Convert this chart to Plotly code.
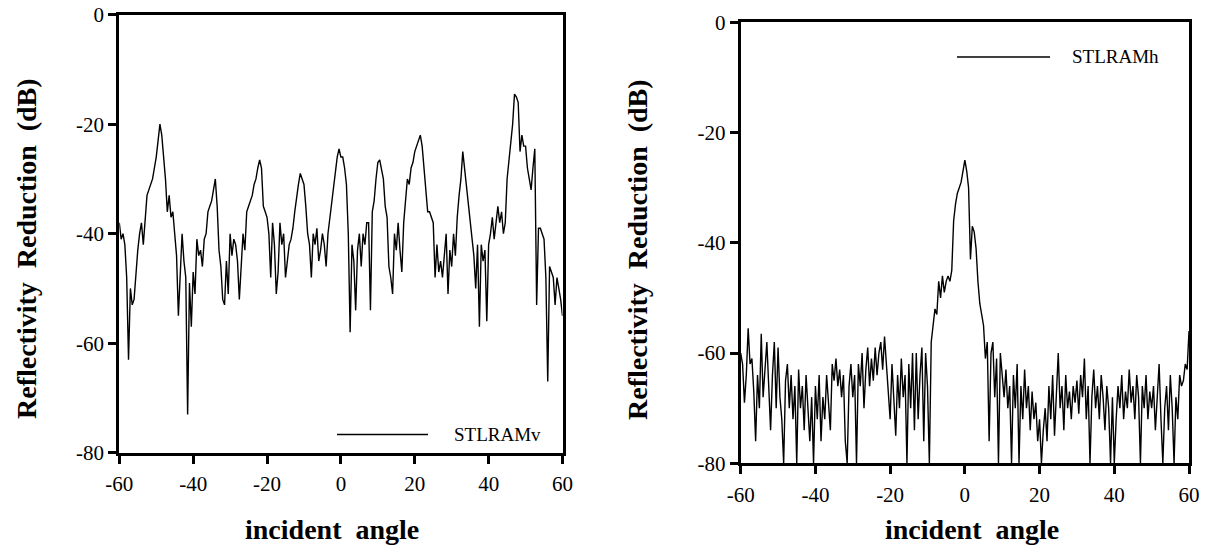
import numpy as np
import plotly.graph_objects as go

# ---------------- data ----------------
# incident angle grid: -60 .. 60 deg, 0.5 deg step
stlram_v = [
    -38, -41, -40, -42, -48, -63, -50, -53, -52, -47,      # -60 .. -55.5
    -43, -40, -38, -42, -37, -33, -32, -31, -30, -28,      # -55 .. -50.5
    -26, -23, -20, -22, -26, -30, -36, -33, -37, -36,      # -50 .. -45.5
    -40, -44, -55, -48, -40, -45, -48, -73, -49, -57,      # -45 .. -40.5
    -47, -51, -41, -44, -43, -46, -41, -40, -36, -35,      # -40 .. -35.5
    -34, -32, -30, -35, -43, -46, -52, -53, -45, -51,      # -35 .. -30.5
    -40, -44, -41, -42, -45, -52, -45, -40, -43, -36,      # -30 .. -25.5
    -35, -34, -33, -31, -30, -28, -26.5, -28, -35, -36,    # -25 .. -20.5
    -37, -40, -48, -38, -42, -51, -47, -38, -42, -40,      # -20 .. -15.5
    -48, -45, -42, -41, -39, -36, -33, -31, -29, -30,      # -15 .. -10.5
    -31, -35, -40, -42, -48, -40, -42, -39, -45, -43,      # -10 .. -5.5
    -40, -42, -46, -40, -37, -34, -31, -29, -26, -24.5,    # -5 .. -0.5
    -26, -26, -28, -31, -40, -58, -42, -45, -54, -43,      # 0 .. 4.5
    -40, -46, -40, -42, -38, -38, -54, -36, -34, -30,      # 5 .. 9.5
    -27, -26.5, -28, -30, -35, -37, -46, -48, -51, -40,    # 10 .. 14.5
    -43, -38, -43, -47, -38, -34, -30, -31, -28, -27,      # 15 .. 19.5
    -25, -24, -23, -22, -24, -28, -32, -36, -36, -37,      # 20 .. 24.5
    -38, -48, -42, -47, -45, -48, -44, -40, -51, -43,      # 25 .. 29.5
    -46, -40, -44, -37, -33, -30, -25, -28, -32, -35,      # 30 .. 34.5
    -37, -41, -44, -50, -42, -57, -42, -45, -43, -56,      # 35 .. 39.5
    -42, -40, -37, -41, -38, -35, -38, -36, -40, -38,      # 40 .. 44.5
    -30, -27, -24, -20, -14.5, -15, -16, -25, -22, -24,    # 45 .. 49.5
    -24, -28, -30, -32, -28, -24.5, -53, -39, -39, -40,    # 50 .. 54.5
    -41, -48, -67, -46, -47, -48, -53, -48, -50, -52, -55, # 55 .. 60
]

stlram_h = [
    -60, -62, -69, -64, -55.5, -62, -61, -67, -76, -64,    # -60 .. -55.5
    -70, -56.5, -68, -62, -58, -66, -74, -64, -58, -70,    # -55 .. -50.5
    -59, -68, -72, -80, -65, -62, -70, -64, -72, -66,      # -50 .. -45.5
    -80, -63, -70, -66, -74, -64, -70, -76, -68, -80,      # -45 .. -40.5
    -66, -72, -64, -76, -68, -72, -64, -70, -74, -62,      # -40 .. -35.5
    -65, -61, -66, -63, -68, -64, -76, -80, -66, -62,      # -35 .. -30.5
    -68, -64, -80, -62, -66, -60, -70, -63, -59, -66,      # -30 .. -25.5
    -61, -65, -59, -64, -60, -58, -63, -57, -62, -66,      # -25 .. -20.5
    -72, -62, -68, -75, -64, -70, -61, -68, -64, -80,      # -20 .. -15.5
    -62, -70, -60, -74, -60, -72, -64, -59, -76, -60,      # -15 .. -10.5
    -66, -80, -58, -55, -52, -53, -47, -50, -46, -49,      # -10 .. -5.5
    -47, -46, -47, -45, -36, -33, -31, -30, -29, -27,      # -5 .. -0.5
    -25, -27, -30, -43, -37, -38, -41, -47, -51, -53,      # 0 .. 4.5
    -55, -61, -58, -76, -60, -58, -68, -61, -80, -60,      # 5 .. 9.5
    -64, -68, -63, -70, -66, -80, -64, -70, -62, -80,      # 10 .. 14.5
    -66, -72, -63, -70, -66, -74, -67, -72, -69, -76,      # 15 .. 19.5
    -72, -80, -74, -70, -76, -66, -72, -64, -75, -68,      # 20 .. 24.5
    -60, -70, -66, -74, -64, -70, -67, -72, -66, -69,      # 25 .. 29.5
    -65, -71, -64, -68, -61, -72, -66, -80, -68, -63,      # 30 .. 34.5
    -70, -66, -72, -64, -68, -74, -66, -70, -80, -68,      # 35 .. 39.5
    -80, -72, -66, -70, -64, -72, -67, -70, -63, -69,      # 40 .. 44.5
    -66, -72, -64, -68, -80, -66, -70, -64, -72, -67,      # 45 .. 49.5
    -70, -66, -74, -68, -62, -72, -80, -70, -66, -74,      # 50 .. 54.5
    -64, -70, -80, -68, -72, -64, -66, -65, -62, -63, -56, # 55 .. 60
]

x_tick_vals = [-60, -40, -20, 0, 20, 40, 60]
x_tick_text = ["-60", "-40", "-20", "0", "20", "40", "60"]
y_tick_vals = [0, -20, -40, -60, -80]
y_tick_text = ["0", "-20", "-40", "-60", "-80"]

angles_v = np.linspace(-60, 60, len(stlram_v))
angles_h = np.linspace(-60, 60, len(stlram_h))

W, H = 1208, 548
SERIF = "Liberation Serif"

fig = go.Figure()
fig.add_trace(go.Scatter(x=angles_v, y=stlram_v, mode="lines", name="STLRAMv",
                         line=dict(color="black", width=1.4), xaxis="x", yaxis="y",
                         showlegend=False))
fig.add_trace(go.Scatter(x=angles_h, y=stlram_h, mode="lines", name="STLRAMh",
                         line=dict(color="black", width=1.4), xaxis="x2", yaxis="y2",
                         showlegend=False))


def xax(domain, anchor):
    return dict(domain=domain, anchor=anchor, range=[-60, 60],
                tickvals=x_tick_vals, ticktext=x_tick_text,
                showline=True, linewidth=3, linecolor="black", mirror=True,
                ticks="outside", ticklen=8, tickwidth=3, tickcolor="black",
                ticklabelstandoff=2, automargin=False, ticklabeloverflow="allow",
                showgrid=False, zeroline=False,
                tickfont=dict(family=SERIF, size=21, color="black"))


def yax(domain, anchor):
    return dict(domain=domain, anchor=anchor, range=[-80, 0],
                tickvals=y_tick_vals, ticktext=y_tick_text,
                showline=True, linewidth=3, linecolor="black", mirror=True,
                ticks="outside", ticklen=8, tickwidth=3, tickcolor="black",
                automargin=False, ticklabeloverflow="allow",
                showgrid=False, zeroline=False,
                tickfont=dict(family=SERIF, size=21, color="black"))


def px(x):
    return x / W


def py(y):
    return 1 - y / H


fig.update_layout(
    width=W, height=H,
    margin=dict(l=0, r=0, t=0, b=0, pad=0),
    paper_bgcolor="white", plot_bgcolor="white",
    showlegend=False,
    font=dict(family=SERIF, color="black"),
    xaxis=xax([px(119.3), px(562.5)], "y"),
    yaxis=yax([py(452.7), py(14.7)], "x"),
    xaxis2=xax([px(740.7), px(1189)], "y2"),
    yaxis2=yax([py(463.3), py(22.3)], "x2"),
)

ytitle = "Reflectivity\u00a0\u00a0Reduction\u00a0\u00a0(dB)"
xtitle = "incident\u00a0\u00a0angle"
title_font = dict(family=SERIF, size=28, color="black")
legend_font = dict(family=SERIF, size=19, color="black")

annotations = [
    dict(text="<b>%s</b>" % ytitle, x=px(27), y=py(249), xref="paper", yref="paper",
         textangle=-90, showarrow=False, font=title_font, xanchor="center", yanchor="middle"),
    dict(text="<b>%s</b>" % ytitle, x=px(637), y=py(250), xref="paper", yref="paper",
         textangle=-90, showarrow=False, font=title_font, xanchor="center", yanchor="middle"),
    dict(text="<b>%s</b>" % xtitle, x=px(332), y=py(529), xref="paper", yref="paper",
         showarrow=False, font=title_font, xanchor="center", yanchor="middle"),
    dict(text="<b>%s</b>" % xtitle, x=px(972), y=py(529), xref="paper", yref="paper",
         showarrow=False, font=title_font, xanchor="center", yanchor="middle"),
    # legend texts
    dict(text="STLRAMv", x=px(452), y=py(434), xref="paper", yref="paper",
         showarrow=False, font=legend_font, xanchor="left", yanchor="middle"),
    dict(text="STLRAMh", x=px(1070), y=py(57), xref="paper", yref="paper",
         showarrow=False, font=legend_font, xanchor="left", yanchor="middle"),
]
fig.update_layout(annotations=annotations)

shapes = [
    dict(type="line", xref="paper", yref="paper", x0=px(337), x1=px(428),
         y0=py(434.5), y1=py(434.5), line=dict(color="black", width=1.5)),
    dict(type="line", xref="paper", yref="paper", x0=px(957), x1=px(1050),
         y0=py(57), y1=py(57), line=dict(color="black", width=1.5)),
]
fig.update_layout(shapes=shapes)

# remove the browser's default 8px body margin so the figure fills the window
fig.write_html("out.html",
               config={"displayModeBar": False},
               post_script="document.body.style.margin='0';document.body.style.padding='0';")
